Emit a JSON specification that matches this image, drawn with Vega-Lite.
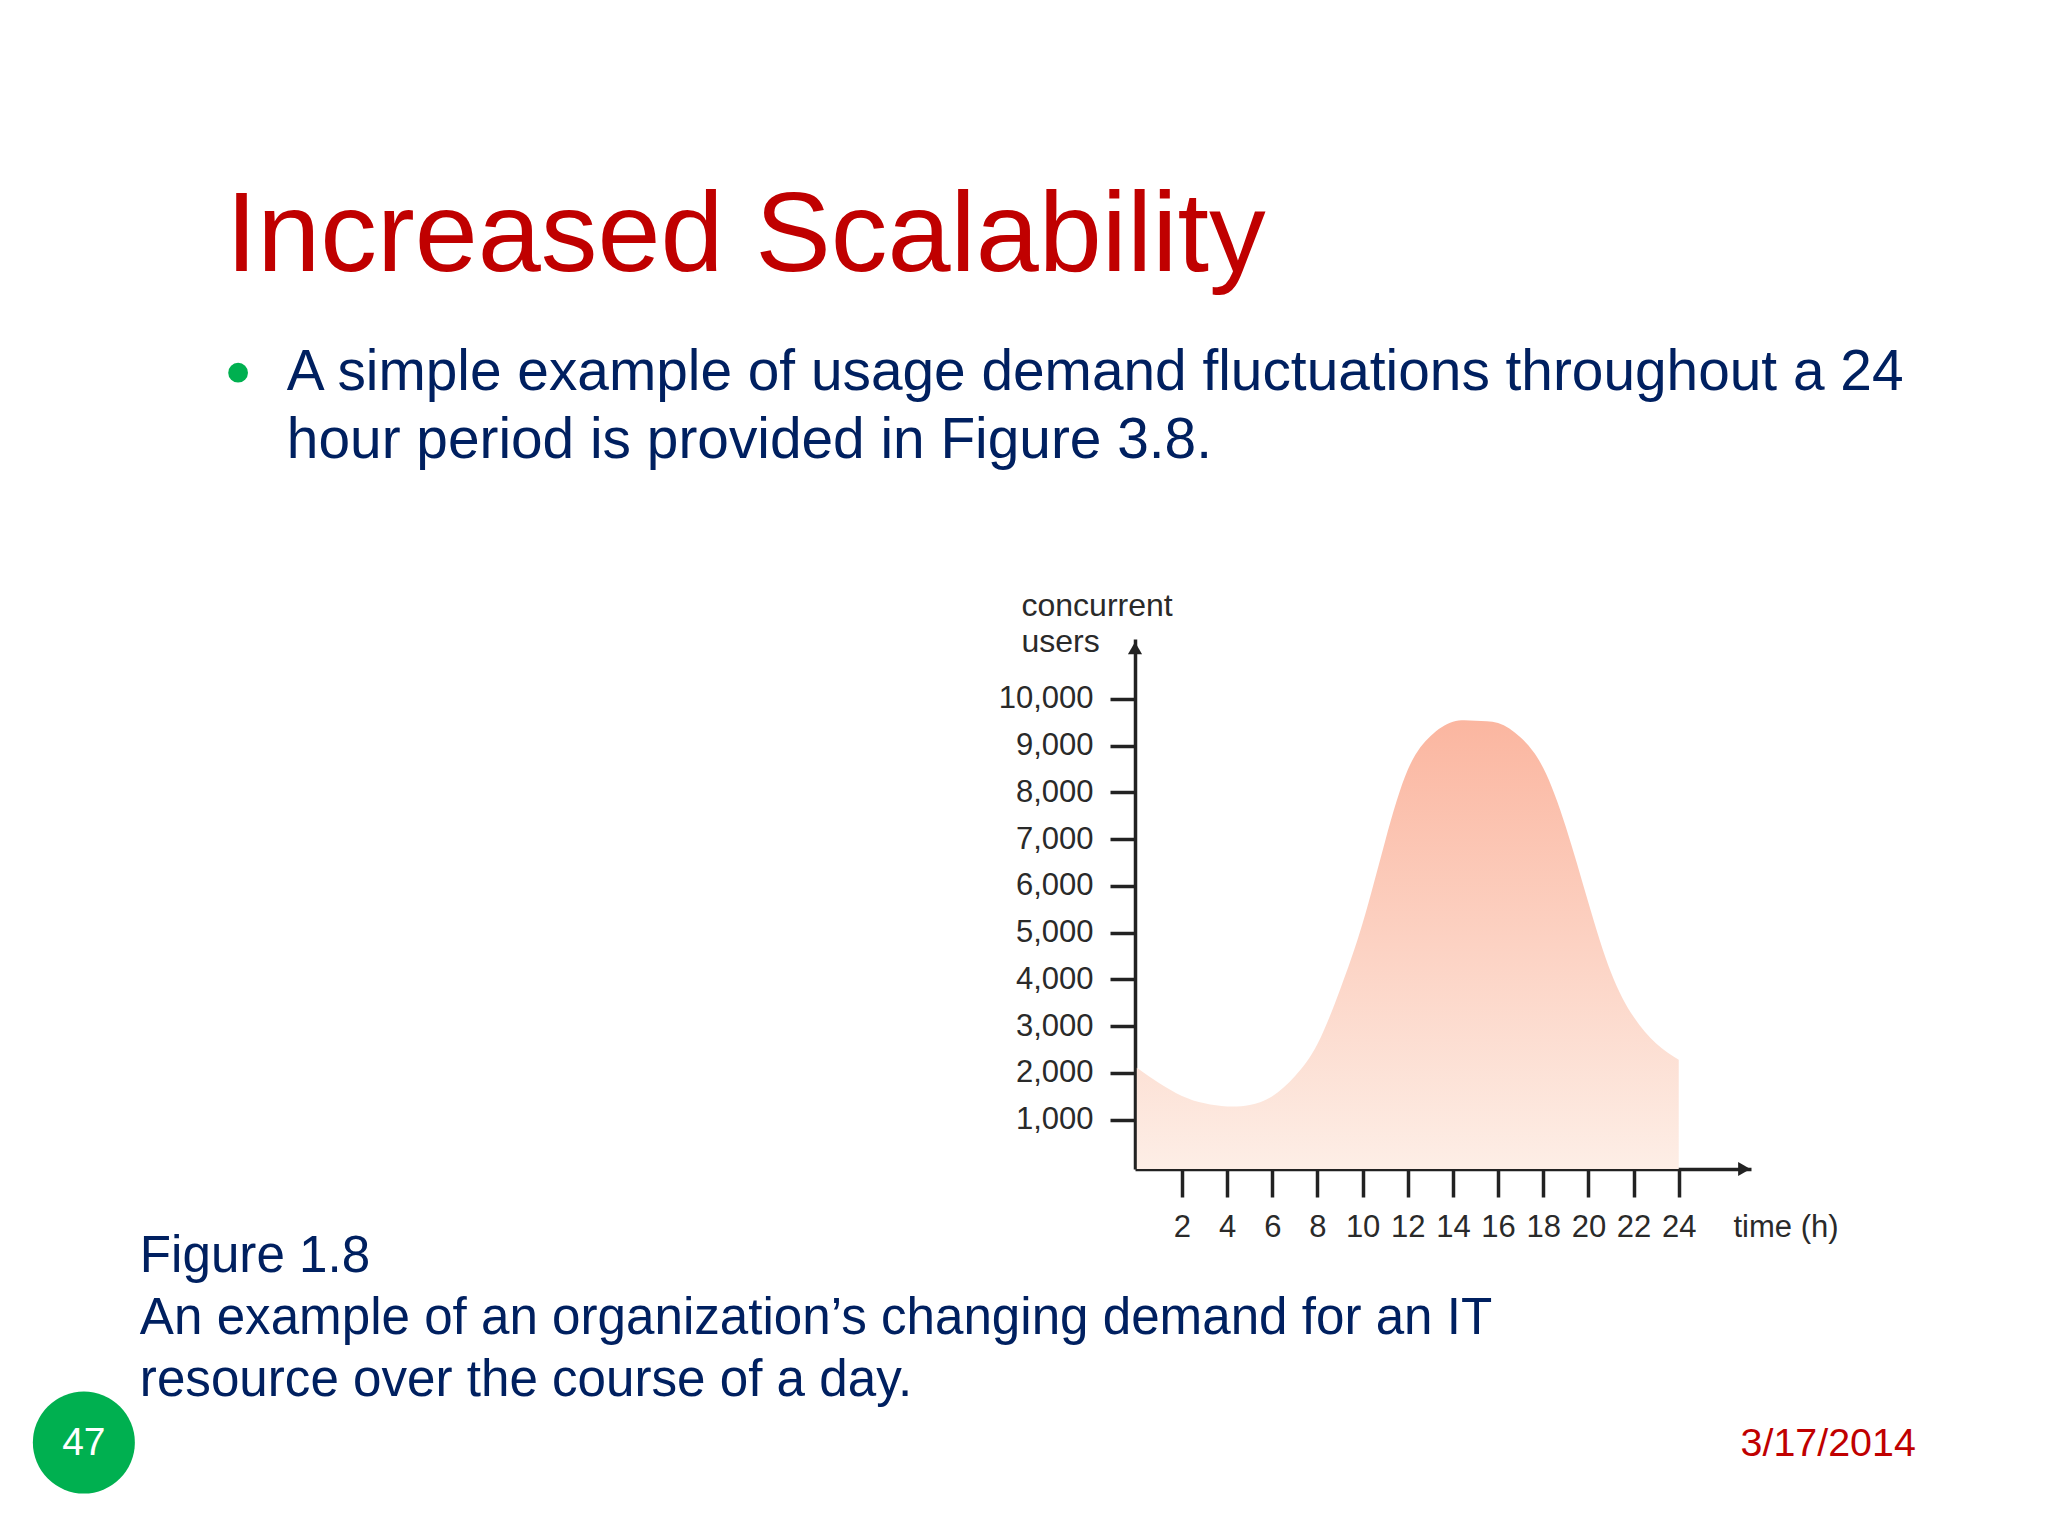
{"$schema":"https://vega.github.io/schema/vega-lite/v6.json","width":616,"height":530,"autosize":{"type":"none"},"padding":{"left":1135,"top":639,"right":297,"bottom":367},"background":"white","config":{"view":{"stroke":null},"font":"Liberation Sans"},"layer":[{"data":{"values":[{"hour":0,"users":2110},{"hour":1,"users":1780},{"hour":2,"users":1510},{"hour":3,"users":1350},{"hour":4,"users":1285},{"hour":5,"users":1315},{"hour":6,"users":1500},{"hour":7,"users":1930},{"hour":8,"users":2620},{"hour":9,"users":3780},{"hour":10,"users":5200},{"hour":11,"users":6960},{"hour":12,"users":8480},{"hour":13,"users":9200},{"hour":14,"users":9510},{"hour":15,"users":9530},{"hour":16,"users":9480},{"hour":17,"users":9170},{"hour":18,"users":8520},{"hour":19,"users":7260},{"hour":20,"users":5640},{"hour":21,"users":4150},{"hour":22,"users":3200},{"hour":23,"users":2630},{"hour":24,"users":2280}]},"mark":{"type":"area","interpolate":"natural","color":{"gradient":"linear","x1":0,"y1":1,"x2":0,"y2":0,"stops":[{"offset":0,"color":"#fdeee6"},{"offset":1,"color":"#fbb6a0"}]}},"encoding":{"x":{"field":"hour","type":"quantitative","scale":{"domain":[-0.08,27.2],"nice":false,"zero":false},"axis":{"values":[2,4,6,8,10,12,14,16,18,20,22,24],"grid":false,"domainColor":"#222222","domainWidth":3.5,"tickColor":"#222222","tickWidth":3.5,"tickSize":28,"labelFontSize":31,"labelColor":"#2a2a2a","labelPadding":15,"labelFlush":false,"title":"time (h)","titleFontSize":31,"titleFontWeight":"normal","titleColor":"#2a2a2a","titleX":598,"titleY":67,"titleAlign":"left","titleBaseline":"alphabetic"}},"y":{"field":"users","type":"quantitative","scale":{"domain":[-53,11277],"nice":false,"zero":false},"axis":{"values":[1000,2000,3000,4000,5000,6000,7000,8000,9000,10000],"format":",d","grid":false,"domainColor":"#222222","domainWidth":3.5,"tickColor":"#222222","tickWidth":3.5,"tickSize":25,"labelFontSize":31,"labelColor":"#2a2a2a","labelPadding":17,"labelFlush":false,"title":["concurrent","users"],"titleFontSize":32,"titleFontWeight":"normal","titleColor":"#2a2a2a","titleAngle":0,"titleX":-114,"titleY":-24,"titleAlign":"left","titleBaseline":"alphabetic","titleLineHeight":36}},"y2":{"datum":-53}}},{"data":{"values":[{"label":"arrow"}]},"mark":{"type":"point","shape":"triangle-up","filled":true,"color":"#222222","size":200,"opacity":1},"encoding":{"x":{"datum":-0.08,"type":"quantitative"},"y":{"datum":11080,"type":"quantitative"}}},{"data":{"values":[{"label":"arrow"}]},"mark":{"type":"point","shape":"triangle-right","filled":true,"color":"#222222","size":200,"opacity":1},"encoding":{"x":{"datum":26.9,"type":"quantitative"},"y":{"datum":-53,"type":"quantitative"}}},{"data":{"values":[{"label":"bullet"}]},"mark":{"type":"point","shape":"circle","filled":true,"color":"#00b050","size":390,"opacity":1},"encoding":{"x":{"datum":-39.8,"type":"quantitative"},"y":{"datum":16969,"type":"quantitative"}}},{"data":{"values":[{"label":"page"}]},"mark":{"type":"point","shape":"circle","filled":true,"color":"#00b050","size":10404,"opacity":1},"encoding":{"x":{"datum":-46.63,"type":"quantitative"},"y":{"datum":-5901,"type":"quantitative"}}},{"data":{"values":[{"label":"Increased Scalability"}]},"mark":{"type":"text","align":"left","baseline":"alphabetic","fontSize":113.4,"color":"#c00000","font":"Liberation Sans"},"encoding":{"text":{"field":"label"},"x":{"datum":-40.35,"type":"quantitative"},"y":{"datum":19150,"type":"quantitative"}}},{"data":{"values":[{"label":"A simple example of usage demand fluctuations throughout a 24\nhour period is provided in Figure 3.8."}]},"mark":{"type":"text","align":"left","baseline":"alphabetic","lineBreak":"\n","lineHeight":68,"fontSize":56.8,"color":"#002060","font":"Liberation Sans"},"encoding":{"text":{"field":"label"},"x":{"datum":-37.64,"type":"quantitative"},"y":{"datum":16600,"type":"quantitative"}}},{"data":{"values":[{"label":"Figure 1.8\nAn example of an organization’s changing demand for an IT\nresource over the course of a day."}]},"mark":{"type":"text","align":"left","baseline":"alphabetic","lineBreak":"\n","lineHeight":62,"fontSize":51.15,"color":"#002060","font":"Liberation Sans"},"encoding":{"text":{"field":"label"},"x":{"datum":-44.15,"type":"quantitative"},"y":{"datum":-2254,"type":"quantitative"}}},{"data":{"values":[{"label":"47"}]},"mark":{"type":"text","align":"center","baseline":"middle","fontSize":39,"color":"white","font":"Liberation Sans"},"encoding":{"text":{"field":"label"},"x":{"datum":-46.63,"type":"quantitative"},"y":{"datum":-5901,"type":"quantitative"}}},{"data":{"values":[{"label":"3/17/2014"}]},"mark":{"type":"text","align":"right","baseline":"alphabetic","fontSize":39.4,"color":"#c00000","font":"Liberation Sans"},"encoding":{"text":{"field":"label"},"x":{"datum":34.5,"type":"quantitative"},"y":{"datum":-6188,"type":"quantitative"}}}]}
